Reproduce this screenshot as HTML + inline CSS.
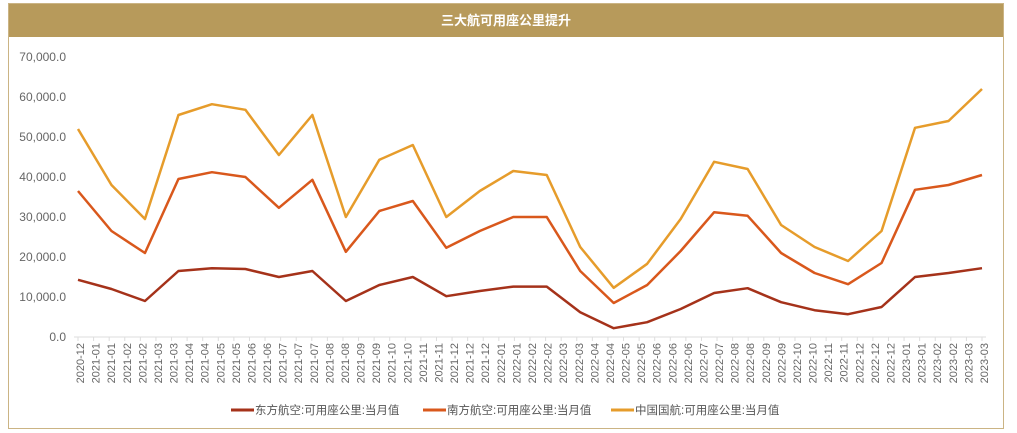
<!DOCTYPE html>
<html><head><meta charset="utf-8"><style>
body{margin:0;background:#fff;font-family:"Liberation Sans","Noto Sans CJK SC",sans-serif;}
#wrap{position:absolute;left:8px;top:3px;width:996px;height:426px;border:1px solid #cbb484;box-sizing:border-box;}
#title{position:absolute;left:0;top:0;width:100%;height:33px;background:#b79a5b;color:#fff;font-size:13px;font-weight:bold;text-align:center;line-height:33px;}
</style></head><body>
<div id="wrap">
<div id="title">三大航可用座公里提升</div>
</div>
<svg id="chart" width="1017" height="433" style="position:absolute;left:0;top:0"></svg>
<script>
const xLabels=["2020-12","2021-01","2021-01","2021-02","2021-02","2021-03","2021-03","2021-04","2021-04","2021-05","2021-05","2021-06","2021-06","2021-07","2021-07","2021-07","2021-08","2021-08","2021-09","2021-09","2021-10","2021-10","2021-11","2021-11","2021-12","2021-12","2021-12","2022-01","2022-01","2022-02","2022-02","2022-03","2022-03","2022-04","2022-04","2022-05","2022-05","2022-06","2022-06","2022-06","2022-07","2022-07","2022-08","2022-08","2022-09","2022-09","2022-10","2022-10","2022-11","2022-11","2022-12","2022-12","2022-12","2023-01","2023-01","2023-02","2023-02","2023-03","2023-03"];
const yTicks=[0,10000,20000,30000,40000,50000,60000,70000];
const eastern=[14300,12000,9000,16500,17200,17000,15000,16500,9000,13000,15000,10200,11500,12600,12600,6200,2200,3700,7000,11000,12200,8700,6700,5700,7500,15000,16000,17200];
const southern=[36500,26500,21000,39500,41200,40000,32300,39300,21300,31500,34000,22300,26500,30000,30000,16500,8500,13000,21500,31200,30300,21000,16000,13200,18500,36800,38000,40500];
const airChina=[52000,38000,29500,55500,58200,56800,45500,55500,30000,44300,48000,30000,36500,41500,40500,22500,12300,18300,29500,43800,42000,28000,22500,19000,26500,52300,54000,62000];
const seriesNames=["东方航空:可用座公里:当月值","南方航空:可用座公里:当月值","中国国航:可用座公里:当月值"];
const colors=["#a5321a","#d9581c","#e69c2b"];
const NS="http://www.w3.org/2000/svg",svg=document.getElementById('chart');
const x0=78,x1=982,y0=337,y1=57,yMax=70000;
const ys=v=>y0-(v/yMax)*(y0-y1);
const xs=(i,n)=>x0+i*(x1-x0)/(n-1);
function mk(t,a){const e=document.createElementNS(NS,t);for(const k in a)e.setAttribute(k,a[k]);svg.appendChild(e);return e;}
yTicks.forEach(v=>{
 const t=mk('text',{x:66,y:ys(v)+4,'text-anchor':'end','font-size':12,fill:'#666'});
 
 
 t.textContent=v.toLocaleString('en-US',{minimumFractionDigits:1});
});
const ax=mk('line',{x1:74,x2:986,y1:y0,y2:y0,stroke:'#ddd'});


xLabels.forEach((l,i)=>{
 const x=xs(i,xLabels.length)+2;
 const tk=mk('line',{x1:x-2,x2:x-2,y1:y0,y2:y0+4,stroke:'#ddd'});
 
 
 const t=mk('text',{x:0,y:0,'text-anchor':'end','font-size':11,fill:'#666',transform:`translate(${x+4},${y0+6}) rotate(-90)`});
 
 
 t.textContent=l;
});
[eastern,southern,airChina].forEach((s,k)=>{
 const p=mk('polyline',{points:s.map((v,i)=>xs(i,s.length)+','+ys(v)).join(' '),fill:'none',stroke:colors[k],'stroke-width':2.5,'stroke-linejoin':'round'});
 
 
});
const lx=[231,423,611];
seriesNames.forEach((n,k)=>{
 const g=mk('g',{});
 
 
 const l=document.createElementNS(NS,'line');
 l.setAttribute('x1',lx[k]);l.setAttribute('x2',lx[k]+23);l.setAttribute('y1',410);l.setAttribute('y2',410);
 l.setAttribute('stroke',colors[k]);l.setAttribute('stroke-width',3);g.appendChild(l);
 const t=document.createElementNS(NS,'text');
 t.setAttribute('x',lx[k]+24);t.setAttribute('y',414);t.setAttribute('font-size',11.5);t.setAttribute('fill','#555');
 t.textContent=n;g.appendChild(t);
});
</script>
</body></html>
